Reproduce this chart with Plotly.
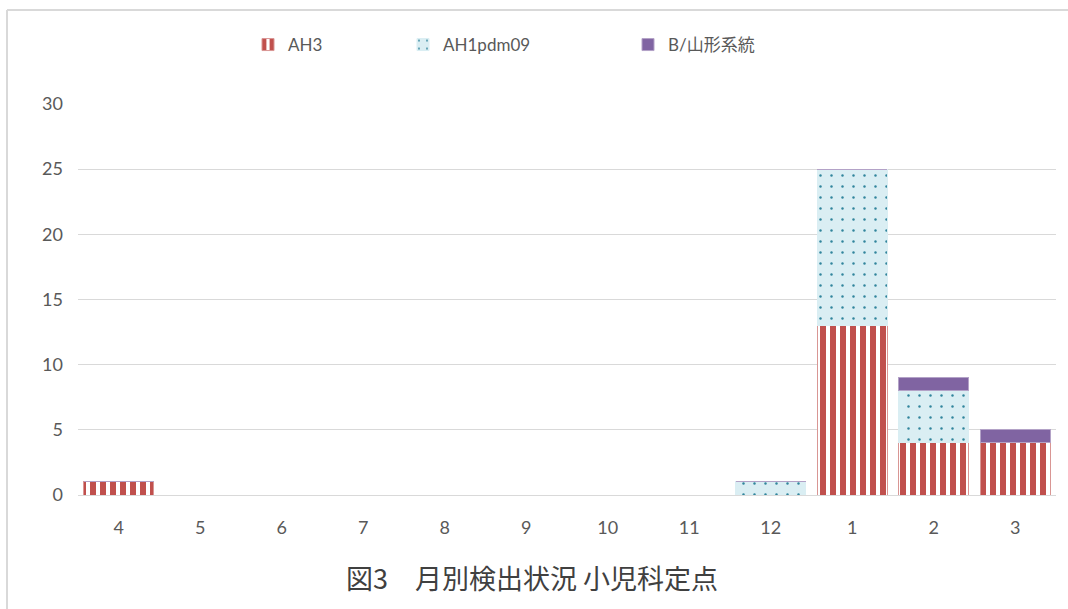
import plotly.graph_objects as go

months = ["4", "5", "6", "7", "8", "9", "10", "11", "12", "1", "2", "3"]
ah3 = [1, 0, 0, 0, 0, 0, 0, 0, 0, 13, 4, 4]
ah1pdm09 = [0, 0, 0, 0, 0, 0, 0, 0, 1, 12, 4, 0]
b_yamagata = [0, 0, 0, 0, 0, 0, 0, 0, 0, 0, 1, 1]
y_ticks = [0, 5, 10, 15, 20, 25, 30]
title_text = "図3　月別検出状況 小児科定点"

FONT = "Lato, 'Noto Sans CJK JP', sans-serif"
TXT = "#595959"

fig = go.Figure()
fig.add_trace(go.Bar(
    x=months, y=ah3, name="AH3", legend="legend", showlegend=True,
    marker=dict(color="white",
                line=dict(color="#D99694", width=1),
                pattern=dict(shape="|", fgcolor="#C0504D", bgcolor="white",
                             size=10, solidity=0.6, fillmode="replace")),
))
fig.add_trace(go.Bar(
    x=months, y=ah1pdm09, name="AH1pdm09", legend="legend2", showlegend=True,
    marker=dict(color="#DAEEF3",
                line=dict(color="#DAEEF3", width=1),
                pattern=dict(shape=".", fgcolor="#31859C", bgcolor="#DAEEF3",
                             size=11, solidity=0.04, fillmode="replace")),
))
fig.add_trace(go.Bar(
    x=months, y=b_yamagata, name="B/山形系統", legend="legend3", showlegend=True,
    marker=dict(color="#8064A2", line=dict(color="#B3A2C7", width=1)),
))

leg_common = dict(orientation="h", yanchor="middle", xanchor="left",
                  font=dict(family=FONT, size=17, color=TXT),
                  bgcolor="rgba(0,0,0,0)", itemwidth=30, visible=True)

# plot area: x 78..1056, y 104..495
def px_x(p):
    return (p - 78) / 978.0

def px_y(p):
    return (495 - p) / 391.0

fig.update_layout(
    width=1068, height=609,
    margin=dict(l=78, r=12, t=104, b=114),
    paper_bgcolor="white", plot_bgcolor="white",
    barmode="stack", bargap=0.14, showlegend=True,
    font=dict(family=FONT, size=17, color=TXT),
    legend=dict(x=px_x(248), y=px_y(45), **leg_common),
    legend2=dict(x=px_x(403), y=px_y(45), **leg_common),
    legend3=dict(x=px_x(628), y=px_y(45), **leg_common),
    xaxis=dict(type="category", categoryorder="array", categoryarray=months,
               showgrid=False, showline=False, zeroline=False,
               ticks="", ticklabelstandoff=20,
               tickfont=dict(family=FONT, size=18, color=TXT)),
    yaxis=dict(range=[0, 30], tickvals=y_ticks, showgrid=True,
               gridcolor="#D9D9D9", gridwidth=1, zeroline=True,
               zerolinecolor="#D9D9D9", zerolinewidth=1, showline=False,
               ticks="", ticklabelstandoff=14,
               tickfont=dict(family=FONT, size=18, color=TXT)),
    shapes=[
        dict(type="line", xref="paper", yref="paper",
             x0=px_x(7), x1=px_x(1075), y0=px_y(10), y1=px_y(10),
             line=dict(color="#D9D9D9", width=2), layer="below"),
        dict(type="line", xref="paper", yref="paper",
             x0=px_x(7), x1=px_x(7), y0=px_y(10), y1=px_y(620),
             line=dict(color="#D9D9D9", width=2), layer="below"),
    ],
    annotations=[
        dict(text=title_text, xref="paper", yref="paper",
             x=px_x(532), y=px_y(577), xanchor="center", yanchor="middle",
             showarrow=False,
             font=dict(family="'Noto Sans CJK JP', sans-serif", size=27, color="#404040")),
    ],
)

fig.write_html("out.html")
